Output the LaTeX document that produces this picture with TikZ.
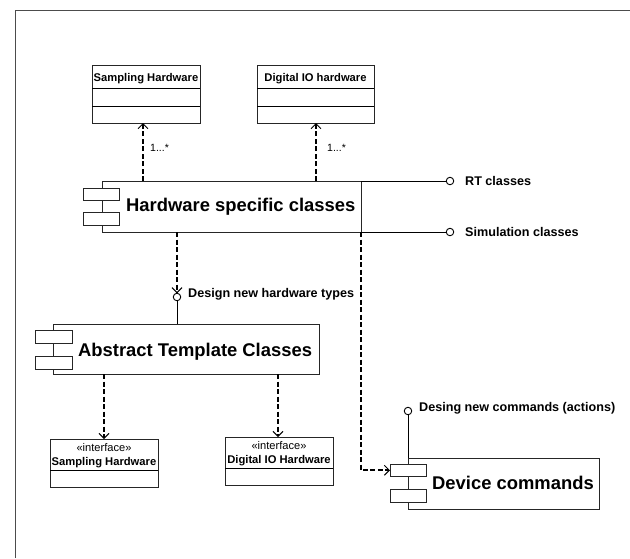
\documentclass[tikz,border=0pt]{standalone}
\usepackage{fontspec}
\setmainfont{Liberation Sans}
\usetikzlibrary{arrows.meta,calc}
\tikzset{
  x=1pt,y=-1pt,
  boxline/.style={draw=black!85,line width=0.9pt,fill=white,inner sep=0pt,outer sep=0pt},
  compbox/.style={boxline,anchor=north west},
  tab/.style={boxline,anchor=north west,minimum width=36pt,minimum height=12.5pt},
  dep/.style={line width=1.6pt,dash pattern=on 5pt off 2.5pt,-{Straight Barb[length=5pt,width=10pt,line width=1pt]}},
  plain/.style={line width=0.9pt},
  lolli/.style={circle,draw,line width=0.9pt,fill=white,minimum size=7.5pt,inner sep=0pt,outer sep=0pt},
  bigtxt/.style={inner sep=0pt,font=\fontsize{18.4}{20}\selectfont\bfseries,anchor=base west},
  lbl/.style={inner sep=0pt,font=\fontsize{12.6}{14}\selectfont\bfseries,anchor=base west},
  cname/.style={inner sep=0pt,font=\fontsize{11.2}{13}\selectfont\bfseries,anchor=base},
  stereo/.style={inner sep=0pt,font=\fontsize{11.1}{13}\selectfont,anchor=base},
  mult/.style={inner sep=0pt,font=\fontsize{10.5}{12}\selectfont,anchor=base west},
}
\begin{document}
\begin{tikzpicture}
\useasboundingbox (0,0) rectangle (630,558);
% outer frame
\draw[draw=black!70,line width=1pt] (15,558) -- (15,10) -- (630,10);

% ---- top classes
\node[compbox,minimum width=108pt,minimum height=58pt] (shw) at (92,65) {};
\draw[plain] (92,88) -- (200,88) (92,106) -- (200,106);
\node[cname] (shwt) at (146,81.7) {Sampling Hardware};

\node[compbox,minimum width=117pt,minimum height=58pt] (dhw) at (257,65) {};
\draw[plain] (257,88) -- (374,88) (257,106) -- (374,106);
\node[cname] (dhwt) at (315.5,81.7) {Digital IO hardware};

% ---- Hardware specific classes component
\node[compbox,minimum width=259pt,minimum height=51pt] (hw) at (102,181) {};
\node[tab] (hwr1) at (83,188) {};
\node[tab] (hwr2) at (83,212.5) {};
\node[bigtxt] (hwt) at (126,211) {Hardware specific classes};

% interfaces on the right
\node[lolli] (rt) at (450,181) {};
\node[lolli] (sim) at (450,232) {};
\draw[plain] (hw.north east) -- (rt.west);
\draw[plain] (hw.south east) -- (sim.west);
\node[lbl] (rtt) at (465,185.5) {RT classes};
\node[lbl] (simt) at (465,236.5) {Simulation classes};

% dependencies to top classes
\coordinate (d1) at (143,181);
\coordinate (d2) at (316,181);
\draw[dep] (d1) -- (d1 |- shw.south);
\draw[dep] (d2) -- (d2 |- dhw.south);
\node[mult] (m1) at (150,151.7) {1...*};
\node[mult] (m2) at (327,151.7) {1...*};

% ---- Abstract Template Classes
\node[compbox,minimum width=266pt,minimum height=50pt] (abs) at (53,324) {};
\node[tab,minimum width=37pt,minimum height=13pt] (absr1) at (35,330) {};
\node[tab,minimum width=37pt,minimum height=12.5pt] (absr2) at (35,356.5) {};
\node[bigtxt] (abst) at (78,356) {Abstract Template Classes};

% design new hardware types interface
\node[lolli] (dnh) at (177,297) {};
\coordinate (d3) at (177,232);
\draw[dep] (d3) -- (dnh.north);
\draw[plain] (dnh.south) -- (dnh.south |- abs.north);
\node[lbl] (dnht) at (188,297.3) {Design new hardware types};

% ---- interfaces below
\node[compbox,minimum width=108pt,minimum height=48pt] (si) at (50,439) {};
\draw[plain] (50,470) -- (158,470);
\node[stereo] (sis) at (104,451.7) {«interface»};
\node[cname] (sin) at (104,465) {Sampling Hardware};

\node[compbox,minimum width=108pt,minimum height=48pt] (di) at (225,437) {};
\draw[plain] (225,468) -- (333,468);
\node[stereo] (dis) at (279,449.7) {«interface»};
\node[cname] (din) at (279,463) {Digital IO Hardware};

\coordinate (d4) at (104,374);
\coordinate (d5) at (278,374);
\draw[dep] (d4) -- (d4 |- si.north);
\draw[dep] (d5) -- (d5 |- di.north);

% ---- Device commands
\node[compbox,minimum width=191pt,minimum height=51pt] (dc) at (408,458) {};
\node[tab] (dcr1) at (390,464) {};
\node[tab] (dcr2) at (390,489.5) {};
\node[bigtxt] (dct) at (432,489) {Device commands};

\node[lolli] (dnc) at (408,411) {};
\draw[plain] (dnc.south) -- (dc.north west);
\node[lbl] (dnct) at (419,411.5) {Desing new commands (actions)};

\draw[dep] (hw.south east) |- (dcr1.west);
\end{tikzpicture}
\end{document}
